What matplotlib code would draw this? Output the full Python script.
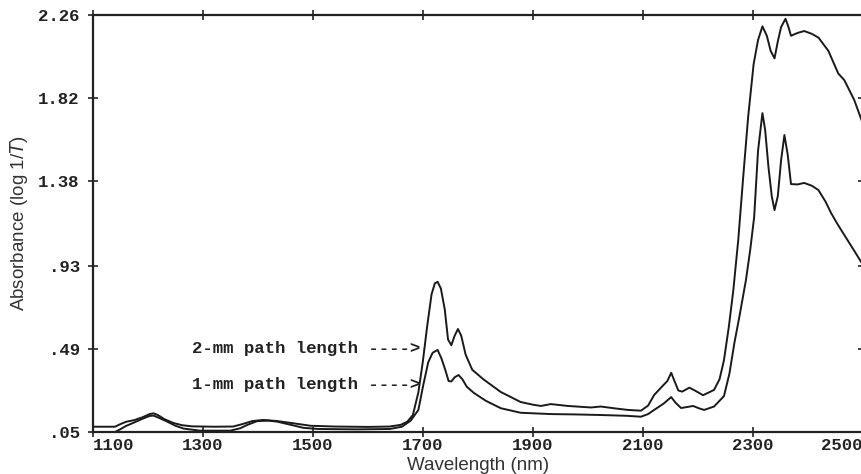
import matplotlib
matplotlib.use("Agg")
from matplotlib import pyplot as plt

# 2-mm path length spectrum
wl_2mm = [1100, 1140, 1150, 1160, 1175, 1190, 1203, 1210, 1218, 1230, 1246, 1262,
          1280, 1320, 1355, 1372, 1390, 1410, 1435, 1465, 1496, 1540, 1600, 1640,
          1660, 1672, 1682, 1692, 1700, 1708, 1716, 1722, 1727, 1733, 1740, 1746,
          1752, 1758, 1764, 1770, 1778, 1790, 1810, 1842, 1878, 1900, 1915, 1933,
          1964, 2006, 2024, 2050, 2073, 2097, 2110, 2121, 2135, 2145, 2152, 2158,
          2165, 2172, 2185, 2195, 2210, 2230, 2240, 2248, 2257, 2265, 2274, 2283,
          2292, 2302, 2310, 2318, 2326, 2333, 2340, 2346, 2352, 2360, 2365, 2370,
          2382, 2394, 2408, 2420, 2438, 2456, 2467, 2485, 2500]
abs_2mm = [0.078, 0.078, 0.092, 0.104, 0.113, 0.128, 0.145, 0.149, 0.140, 0.118, 0.098, 0.086,
           0.080, 0.078, 0.079, 0.092, 0.108, 0.114, 0.108, 0.096, 0.083, 0.079, 0.077, 0.079,
           0.088, 0.105, 0.140, 0.260, 0.420, 0.610, 0.780, 0.838, 0.846, 0.810, 0.700, 0.540,
           0.510, 0.560, 0.596, 0.560, 0.460, 0.380, 0.330, 0.262, 0.209, 0.195, 0.188, 0.198,
           0.188, 0.180, 0.185, 0.175, 0.167, 0.163, 0.190, 0.246, 0.290, 0.320, 0.364, 0.320,
           0.270, 0.264, 0.285, 0.270, 0.245, 0.273, 0.330, 0.430, 0.610, 0.800, 1.067, 1.400,
           1.719, 2.000, 2.127, 2.200, 2.150, 2.070, 2.030, 2.120, 2.196, 2.240, 2.200, 2.150,
           2.165, 2.175, 2.160, 2.140, 2.070, 1.950, 1.915, 1.810, 1.690]

# 1-mm path length spectrum
wl_1mm = [1140, 1150, 1160, 1173, 1190, 1203, 1210, 1220, 1235, 1250, 1265, 1295,
          1350, 1368, 1381, 1399, 1420, 1435, 1460, 1483, 1510, 1580, 1640, 1662,
          1678, 1692, 1701, 1710, 1718, 1727, 1734, 1741, 1747, 1752, 1758, 1765,
          1772, 1780, 1793, 1815, 1842, 1878, 1933, 1980, 2024, 2070, 2097, 2110,
          2121, 2138, 2152, 2160, 2170, 2180, 2192, 2203, 2212, 2230, 2248, 2258,
          2267, 2276, 2288, 2296, 2303, 2310, 2318, 2323, 2329, 2335, 2340, 2346,
          2352, 2358, 2364, 2370, 2382, 2394, 2408, 2420, 2433, 2443, 2455, 2467,
          2483, 2500]
abs_1mm = [0.050, 0.065, 0.082, 0.098, 0.120, 0.135, 0.137, 0.125, 0.105, 0.083, 0.068, 0.057,
           0.057, 0.070, 0.088, 0.108, 0.110, 0.105, 0.088, 0.072, 0.066, 0.064, 0.066, 0.078,
           0.110, 0.167, 0.300, 0.420, 0.470, 0.485, 0.440, 0.379, 0.320, 0.318, 0.340, 0.352,
           0.330, 0.290, 0.257, 0.215, 0.176, 0.152, 0.145, 0.143, 0.140, 0.136, 0.131, 0.145,
           0.167, 0.200, 0.235, 0.205, 0.177, 0.182, 0.188, 0.175, 0.167, 0.185, 0.240, 0.360,
           0.522, 0.660, 0.855, 1.020, 1.190, 1.540, 1.740, 1.650, 1.454, 1.300, 1.226, 1.300,
           1.491, 1.624, 1.520, 1.364, 1.362, 1.370, 1.355, 1.332, 1.270, 1.210, 1.150, 1.094,
           1.020, 0.940]

x_ticks = [1100, 1300, 1500, 1700, 1900, 2100, 2300, 2500]
y_ticks = [0.05, 0.49, 0.93, 1.38, 1.82, 2.26]
y_tick_labels = [".05", ".49", ".93", "1.38", "1.82", "2.26"]

mono = dict(family="Liberation Mono", fontweight="bold", fontsize=12.5, color="#222222")

fig = plt.figure(figsize=[8.62, 4.74], dpi=100)
ax = fig.add_axes([93 / 862, 42 / 474, 770 / 862, 417 / 474])

ax.plot(wl_2mm, abs_2mm, color="#1a1a1a", linewidth=1.4)
ax.plot(wl_1mm, abs_1mm, color="#1a1a1a", linewidth=1.4)

ax.set_xlim(1100, 2501)
ax.set_ylim(0.05, 2.26)

ax.set_xticks(x_ticks)
ax.set_xticklabels([str(t) for t in x_ticks], **mono)
ax.set_yticks(y_ticks)
ax.set_yticklabels(y_tick_labels, **mono)
xl = ax.get_xticklabels()
xl[0].set_horizontalalignment("left")
xl[-1].set_horizontalalignment("right")

ax.tick_params(axis="both", direction="inout", length=7, width=1.2, color="#222222")
ax.tick_params(axis="x", pad=1, top=True)
ax.tick_params(axis="y", pad=6, right=True)
for side in ["left", "bottom", "top"]:
    ax.spines[side].set_linewidth(1.6)
    ax.spines[side].set_color("#222222")
ax.spines["right"].set_visible(False)

ax.text(1280, 0.49, "2-mm path length ---->", va="center", ha="left", **mono)
ax.text(1280, 0.304, "1-mm path length ---->", va="center", ha="left", **mono)

ax.set_xlabel("Wavelength (nm)", fontsize=13.5, family="Liberation Sans",
              color="#333333", labelpad=3)
ax.set_ylabel("Absorbance (log 1/$\\mathit{T}$)", fontsize=13.5, family="Liberation Sans",
              color="#333333", labelpad=6)

plt.savefig("out.png", dpi=100)
